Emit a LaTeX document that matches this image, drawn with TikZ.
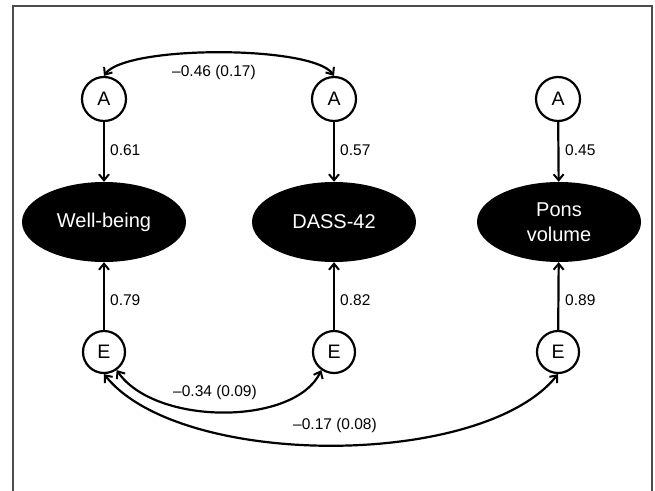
\documentclass[tikz,border=0pt]{standalone}
\usepackage{fontspec}
\setmainfont{Liberation Sans}
\usetikzlibrary{arrows.meta,shapes.geometric}
\begin{document}
\begin{tikzpicture}[x=1pt,y=-1pt,
  lat/.style={circle,draw,line width=2.2pt,minimum size=44pt,inner sep=0pt,font=\fontsize{19.5}{22}\selectfont},
  latE/.style={lat,minimum size=42pt},
  obs/.style={ellipse,fill=black,minimum width=164pt,minimum height=80pt,inner sep=0pt,text=white,align=center,font=\fontsize{20}{25}\selectfont},
  reg/.style={line width=2.2pt,-{Straight Barb[length=6pt,width=10pt,line width=2pt]}},
  cov/.style={line width=2.2pt,{Straight Barb[length=6pt,width=10pt,line width=2pt]}-{Straight Barb[length=6pt,width=10pt,line width=2pt]}},
  lab/.style={font=\fontsize{15.5}{18}\selectfont,inner sep=0pt},
  frame/.style={line width=1.8pt,draw=black!70}]
\fill[white] (0,0) rectangle (655,490);
\useasboundingbox (0,0) rectangle (655,490);
\draw[frame] (12.7,492) -- (12.7,6) -- (651.7,6) -- (651.7,492);

\node[lat] (A1) at (104,99) {A};
\node[lat] (A2) at (334,99) {A};
\node[lat] (A3) at (558,99) {A};

\node[obs] (W) at (104,222) {Well-being};
\node[obs] (D) at (334,222) {DASS-42};
\node[obs] (P) at (559,222) {Pons\\volume};

\node[latE] (E1) at (104,352) {E};
\node[latE] (E2) at (334,352) {E};
\node[latE] (E3) at (558,352) {E};

\draw[reg] (A1) -- (W);
\draw[reg] (A2) -- (D);
\draw[reg] (A3) -- (P);
\draw[reg] (E1) -- (W);
\draw[reg] (E2) -- (D);
\draw[reg] (E3) -- (P);

\node[lab,anchor=west] (l1) at (110,150) {0.61};
\node[lab,anchor=west] (l2) at (340,150) {0.57};
\node[lab,anchor=west] (l3) at (565,150) {0.45};
\node[lab,anchor=west] (l4) at (110,300) {0.79};
\node[lab,anchor=west] (l5) at (340,300) {0.82};
\node[lab,anchor=west] (l6) at (565,300) {0.89};

\draw[cov] (A1.north) .. controls (125,45) and (313,45) .. (A2.north);
\draw[cov] (E1.-55) .. controls (155,426) and (295,426) .. (E2.-125);
\draw[cov] (E1.south) .. controls (180,469) and (482,469) .. (E3.south);

\node[lab] (c1) at (214,72) {\textendash0.46 (0.17)};
\node[lab] (c2) at (215,392) {\textendash0.34 (0.09)};
\node[lab] (c3) at (335,425) {\textendash0.17 (0.08)};
\end{tikzpicture}
\end{document}
